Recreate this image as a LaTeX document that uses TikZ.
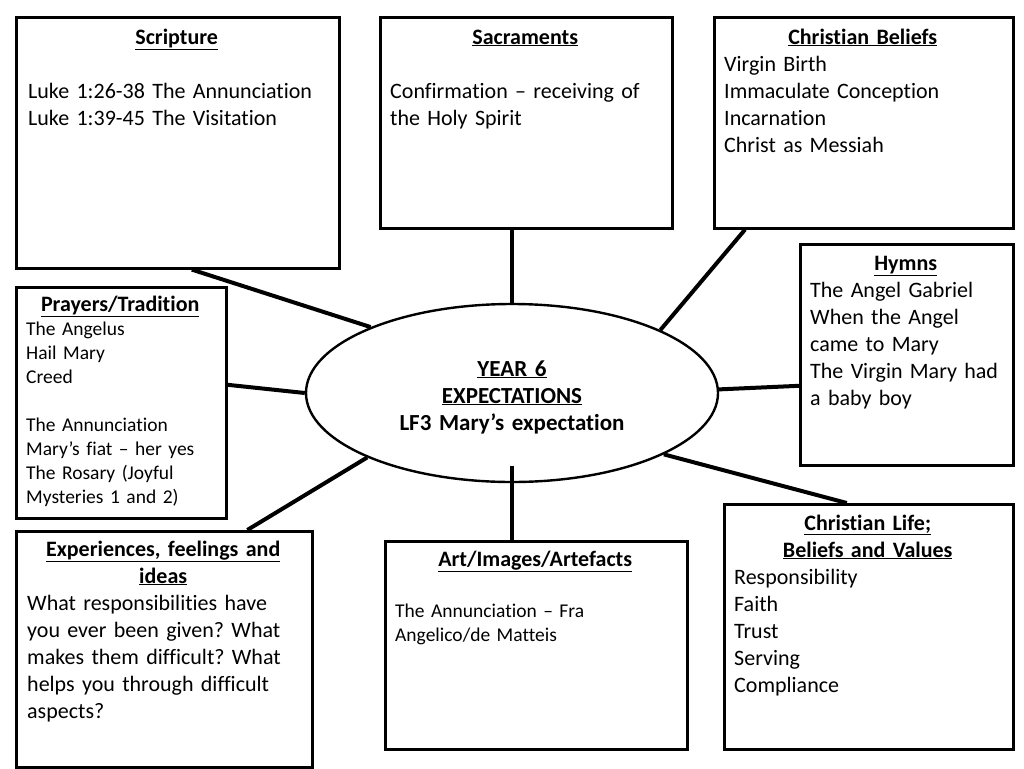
\documentclass[tikz,border=0pt]{standalone}
\usepackage{fontspec}
\setmainfont{Carlito}[Ligatures=NoCommon]
\usetikzlibrary{positioning, calc, shapes.geometric}
\setlength{\parindent}{0pt}
\frenchspacing
\newcommand{\topichead}[1]{{\centering\bfseries\strut\underline{#1}\par}}
\tikzset{
  % Mind map
  topicbox/.style  = { draw, line width=2.6pt, anchor=north west, inner sep=0 },
  topictext/.style = { anchor=north west, inner sep=0,
                       font=\fontsize{22}{27}\selectfont },
  smalltext/.style = { topictext, font=\fontsize{19.5}{24}\selectfont },
  hubnode/.style   = { draw, ellipse, line width=2.4pt, fill=white, inner sep=0,
                       minimum width=412, minimum height=178 },
  hubtext/.style   = { inner sep=0, text width=300,
                       font=\bfseries\fontsize{23}{27}\selectfont },
  link/.style      = { line width=4pt }
}

\begin{document}
\begin{tikzpicture}[x=1pt, y=-1pt]
  \useasboundingbox (0,0) rectangle (1024,768);

  % --- centre -------------------------------------------------------
  \node[hubnode] (hub) at (512,393) {};
  \node[hubtext] (hubtitle) at (512,397)
    {\centering \underline{YEAR 6}\par \underline{EXPECTATIONS}\par LF3 Mary’s expectation\par};

  % --- boxes --------------------------------------------------------
  \node[topicbox, minimum width=323, minimum height=251] (scripture)   at (15,16)  {};
  \node[topicbox, minimum width=292, minimum height=211] (sacraments)  at (379,16) {};
  \node[topicbox, minimum width=299, minimum height=211] (beliefs)     at (713,16) {};
  \node[topicbox, minimum width=213, minimum height=221] (hymns)       at (799,243) {};
  \node[topicbox, minimum width=210, minimum height=231] (prayers)     at (15,286) {};
  \node[topicbox, minimum width=296, minimum height=236] (experiences) at (15,530) {};
  \node[topicbox, minimum width=302, minimum height=208] (art)         at (384,540) {};
  \node[topicbox, minimum width=289, minimum height=245] (life)        at (723,503) {};

  % --- box texts ----------------------------------------------------
  \node[topictext, text width=297] (scripturetext) at (28,25)
    {\topichead{Scripture}\mbox{}\par
     Luke 1:26-38 The Annunciation\par
     Luke 1:39-45 The Visitation};

  \node[topictext, text width=270] (sacramentstext) at (390,25)
    {\topichead{Sacraments}\mbox{}\par
     Confirmation – receiving of\par
     the Holy Spirit};

  \node[topictext, text width=277] (beliefstext) at (724,25)
    {\topichead{Christian Beliefs}
     Virgin Birth\par
     Immaculate Conception\par
     Incarnation\par
     Christ as Messiah};

  \node[topictext, text width=191] (hymnstext) at (810,251)
    {\topichead{Hymns}
     The Angel Gabriel\par
     When the Angel\par
     came to Mary\par
     The Virgin Mary had\par
     a baby boy};

  \node[smalltext, text width=188] (prayerstext) at (26,293.5)
    {{\fontsize{22}{25}\selectfont\topichead{Prayers/Tradition}}
     The Angelus\par
     Hail Mary\par
     Creed\par
     \mbox{}\par
     The Annunciation\par
     Mary’s fiat – her yes\par
     The Rosary (Joyful\par
     Mysteries 1 and 2)};

  \node[topictext, text width=272] (experiencestext) at (27,537)
    {\topichead{Experiences, feelings and}\topichead{ideas}
     What responsibilities have\par
     you ever been given? What\par
     makes them difficult? What\par
     helps you through difficult\par
     aspects?};

  \node[smalltext, text width=280] (arttext) at (395,547)
    {{\fontsize{22}{27}\selectfont\topichead{Art/Images/Artefacts}}
     \vspace{27pt}
     The Annunciation – Fra\par
     Angelico/de Matteis};

  \node[topictext, text width=267] (lifetext) at (734,511)
    {\topichead{Christian Life;}\topichead{Beliefs and Values}
     Responsibility\par
     Faith\par
     Trust\par
     Serving\par
     Compliance};

  % --- links to the centre ------------------------------------------
  \draw[link] ([xshift=14]scripture.south)  -- (hub.155);
  \draw[link] (sacraments.south -| hub.north) -- (hub.north);
  \draw[link] ([xshift=32]beliefs.south west) -- (hub.23);
  \draw[link] ([yshift=-31]hymns.west)      -- (hub.1);
  \draw[link] ([yshift=18]prayers.east)     -- (hub.180);
  \draw[link] ([xshift=83]experiences.north) -- (hub.-156);
  \draw[link] (art.north -| hub.south)      -- ([yshift=17]hub.south);
  \draw[link] ([xshift=-22]life.north)      -- (hub.-22);

\end{tikzpicture}
\end{document}
